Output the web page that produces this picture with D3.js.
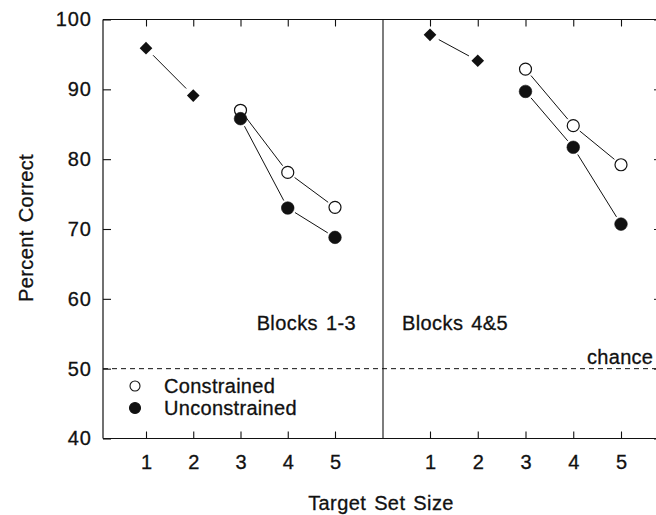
<!DOCTYPE html>
<html>
<head>
<meta charset="utf-8">
<script src="https://cdn.jsdelivr.net/npm/d3@7"></script>
<style>
  html, body { margin: 0; padding: 0; background: #fff; }
  svg { display: block; }
  text { font-family: "Liberation Sans", Arial, Helvetica, sans-serif; fill: #111; stroke: #111; stroke-width: 0.3px; }
</style>
</head>
<body>
<svg id="chart" width="656" height="515"></svg>
<script>
// Percent correct by target set size, two training phases
const setSizes = [1, 2, 3, 4, 5];
const yTicks = [40, 50, 60, 70, 80, 90, 100];
const panelLabels = ["Blocks 1-3", "Blocks 4&5"];
const legendLabels = ["Constrained", "Unconstrained"];

const singleSizes = [1, 2];
const singleB13 = [95.9, 89.1];
const singleB45 = [97.8, 94.1];

const multiSizes = [3, 4, 5];
const constrainedB13 = [87.0, 78.1, 73.1];
const unconstrainedB13 = [85.8, 73.0, 68.8];
const constrainedB45 = [92.9, 84.8, 79.2];
const unconstrainedB45 = [89.7, 81.7, 70.7];

const chanceLevel = 50;

const ink = "#111";
const fontSize = 20;
const svg = d3.select("#chart");

const y = d3.scaleLinear().domain([40, 100]).range([438.5, 19.5]);
const xLeft = d3.scaleLinear().domain([1, 5]).range([146, 335]);
const xRight = d3.scaleLinear().domain([1, 5]).range([430, 621]);

const frameLeft = 103, frameDivide = 383, frameRight = 661;
const frameTop = y(100), frameBottom = y(40);

// Y axis on the left, ticks pointing inward
const yAxis = svg.append("g")
  .attr("transform", `translate(${frameLeft},0)`)
  .call(d3.axisLeft(y).tickValues(yTicks).tickSizeInner(-8).tickSizeOuter(0).tickPadding(11));
yAxis.select(".domain").remove();
yAxis.selectAll("line").attr("stroke", ink).attr("stroke-width", 1.1);
yAxis.selectAll("text").attr("font-size", fontSize).attr("letter-spacing", 1)
  .attr("font-family", '"Liberation Sans", Arial, sans-serif').attr("fill", ink);

// Right-hand frame ticks (frame sits just beyond the drawing)
const yAxisR = svg.append("g")
  .attr("transform", `translate(${frameRight},0)`)
  .call(d3.axisRight(y).tickValues(yTicks).tickSizeInner(-7).tickSizeOuter(0).tickFormat(""));
yAxisR.select(".domain").remove();
yAxisR.selectAll("line").attr("stroke", ink).attr("stroke-width", 1);

// X axes (bottom with labels, top ticks only) for each panel
[xLeft, xRight].forEach(xs => {
  const bx = svg.append("g")
    .attr("transform", `translate(0,${frameBottom})`)
    .call(d3.axisBottom(xs).tickValues(setSizes).tickFormat(d3.format("d"))
      .tickSizeInner(-7).tickSizeOuter(0).tickPadding(16));
  bx.select(".domain").remove();
  bx.selectAll("line").attr("stroke", ink).attr("stroke-width", 1.1);
  bx.selectAll("text").attr("font-size", fontSize)
    .attr("font-family", '"Liberation Sans", Arial, sans-serif').attr("fill", ink);

  const tx = svg.append("g")
    .attr("transform", `translate(0,${frameTop})`)
    .call(d3.axisTop(xs).tickValues(setSizes).tickFormat("")
      .tickSizeInner(-7).tickSizeOuter(0));
  tx.select(".domain").remove();
  tx.selectAll("line").attr("stroke", ink).attr("stroke-width", 1.1);
});

// Frame and panel divider
const frame = svg.append("g").attr("stroke", ink).attr("fill", "none");
frame.append("line").attr("x1", frameLeft).attr("x2", frameRight).attr("y1", frameTop).attr("y2", frameTop).attr("stroke-width", 1.2);
frame.append("line").attr("x1", frameLeft).attr("x2", frameRight).attr("y1", frameBottom).attr("y2", frameBottom).attr("stroke-width", 1.2);
frame.append("line").attr("x1", frameLeft).attr("x2", frameLeft).attr("y1", frameTop).attr("y2", frameBottom).attr("stroke-width", 1.2);
frame.append("line").attr("x1", frameDivide).attr("x2", frameDivide).attr("y1", frameTop).attr("y2", frameBottom).attr("stroke-width", 1.1);

// Chance level
svg.append("line")
  .attr("x1", frameLeft).attr("x2", frameRight)
  .attr("y1", y(chanceLevel)).attr("y2", y(chanceLevel))
  .attr("stroke", ink).attr("stroke-width", 1)
  .attr("stroke-dasharray", "5,4");
svg.append("text")
  .attr("x", 587).attr("y", y(chanceLevel) - 5)
  .attr("font-size", fontSize).attr("letter-spacing", 0.3)
  .text("chance");

// Panel labels
svg.append("text").attr("x", 356).attr("y", 330).attr("text-anchor", "end")
  .attr("font-size", fontSize).attr("letter-spacing", 0.4).attr("word-spacing", 2)
  .text(panelLabels[0]);
svg.append("text").attr("x", 402).attr("y", 330)
  .attr("font-size", fontSize).attr("letter-spacing", 0.4).attr("word-spacing", 2)
  .text(panelLabels[1]);

// Connecting segments, shortened so they stop short of the markers
function drawSegments(xs, sizes, values, gapStart, gapEnd) {
  const pts = sizes.map((s, i) => [xs(s), y(values[i])]);
  for (let i = 0; i < pts.length - 1; i++) {
    const [x1, y1] = pts[i], [x2, y2] = pts[i + 1];
    const len = Math.hypot(x2 - x1, y2 - y1);
    const ux = (x2 - x1) / len, uy = (y2 - y1) / len;
    svg.append("line")
      .attr("x1", x1 + ux * gapStart).attr("y1", y1 + uy * gapStart)
      .attr("x2", x2 - ux * gapEnd).attr("y2", y2 - uy * gapEnd)
      .attr("stroke", ink).attr("stroke-width", 1);
  }
}

function drawDiamonds(xs, sizes, values) {
  svg.append("g").selectAll("path")
    .data(sizes.map((s, i) => [xs(s), y(values[i])]))
    .join("path")
    .attr("d", d3.symbol(d3.symbolSquare, 80))
    .attr("transform", d => `translate(${d[0]},${d[1]}) rotate(45)`)
    .attr("fill", ink);
}

function drawCircles(xs, sizes, values, filled, r) {
  svg.append("g").selectAll("circle")
    .data(sizes.map((s, i) => [xs(s), y(values[i])]))
    .join("circle")
    .attr("cx", d => d[0]).attr("cy", d => d[1]).attr("r", r)
    .attr("fill", filled ? ink : "#fff")
    .attr("stroke", ink).attr("stroke-width", filled ? 0.6 : 1.2);
}

const panels = [
  { xs: xLeft, single: singleB13, con: constrainedB13, unc: unconstrainedB13 },
  { xs: xRight, single: singleB45, con: constrainedB45, unc: unconstrainedB45 }
];

panels.forEach(p => {
  drawSegments(p.xs, singleSizes, p.single, 10, 10);
  drawSegments(p.xs, multiSizes, p.unc, 8.5, 8.5);
  drawSegments(p.xs, multiSizes, p.con, 8.5, 8.5);
  drawDiamonds(p.xs, singleSizes, p.single);
  drawCircles(p.xs, multiSizes, p.con, false, 6);
  drawCircles(p.xs, multiSizes, p.unc, true, 6.3);
});

// Legend
const legend = svg.append("g");
legendLabels.forEach((label, i) => {
  const ly = 386 + i * 22;
  legend.append("circle").attr("cx", 135).attr("cy", ly).attr("r", i === 0 ? 5 : 5.5)
    .attr("fill", i === 0 ? "#fff" : ink).attr("stroke", ink).attr("stroke-width", 1.1);
  legend.append("text").attr("x", 164).attr("y", ly + 7)
    .attr("font-size", fontSize).attr("letter-spacing", 0.3)
    .text(label);
});

// Axis titles
svg.append("text")
  .attr("transform", `translate(33,228) rotate(-90)`)
  .attr("text-anchor", "middle")
  .attr("font-size", fontSize).attr("letter-spacing", 0.4).attr("word-spacing", 2)
  .text("Percent Correct");
svg.append("text")
  .attr("x", 381).attr("y", 510)
  .attr("text-anchor", "middle")
  .attr("font-size", fontSize).attr("letter-spacing", 0.4).attr("word-spacing", 2)
  .text("Target Set Size");
</script>
</body>
</html>
